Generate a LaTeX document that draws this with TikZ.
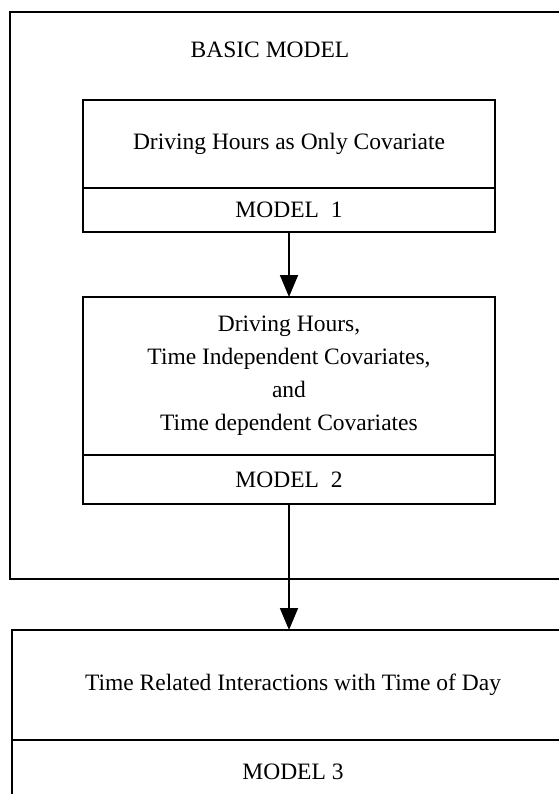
\documentclass[tikz,border=0pt]{standalone}
\usepackage{fontspec}
\setmainfont{Liberation Serif}
\usetikzlibrary{positioning,arrows.meta}

\begin{document}
\begin{tikzpicture}[x=1pt,y=-1pt,
  font=\fontsize{23.5}{33}\selectfont,
  box/.style={draw,line width=1.8pt,inner sep=0pt,outer sep=0pt,align=center},
  link/.style={line width=1.8pt,-{Triangle[length=22pt,width=18pt]}}]
\useasboundingbox (0,0) rectangle (558,794);
\draw[line width=1.8pt] (10,12) rectangle (568,579);
\node (basic) at (270,50) {BASIC MODEL};
\node[box,minimum width=412pt,minimum height=88pt] (t1) at (289,144) {Driving Hours as Only Covariate};
\node[box,minimum width=412pt,minimum height=44pt,below=0pt of t1] (m1) {MODEL\ \ 1};
\node[box,minimum width=412pt,minimum height=158pt] (t2) at (289,376) {Driving Hours,\\ Time Independent Covariates,\\ and\\ Time dependent Covariates};
\node[box,minimum width=412pt,minimum height=49pt,below=0pt of t2] (m2) {MODEL\ \ 2};
\node[box,minimum width=562pt,minimum height=110pt] (t3) at (293,685) {Time Related Interactions with Time of Day};
\node[box,minimum width=562pt,minimum height=64pt,below=0pt of t3] (m3) {MODEL 3};
\draw[link] (m1) -- (t2);
\draw[link] (m2) -- (m2 |- t3.north);
\end{tikzpicture}
\end{document}
